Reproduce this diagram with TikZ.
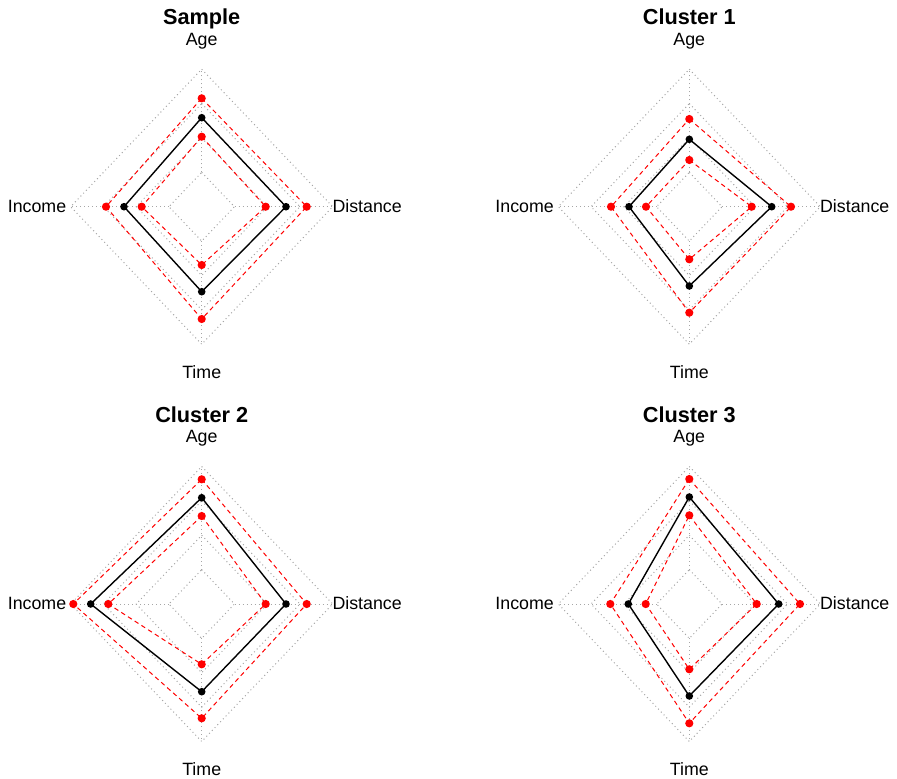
\documentclass[tikz,border=0pt]{standalone}
\usepackage{fontspec}
\setmainfont{Liberation Sans}
\tikzset{
  gridln/.style={draw=gray!70, line width=1pt, dash pattern=on 1pt off 3pt},
  redln/.style={draw=red, line width=1pt, dash pattern=on 4.5pt off 3.5pt},
  blkln/.style={draw=black, line width=1.4pt},
  reddot/.style={circle, fill=red, draw=none, inner sep=0pt, minimum size=8.2pt},
  blkdot/.style={circle, fill=black, draw=none, inner sep=0pt, minimum size=7.6pt},
  axlabel/.style={inner sep=0pt, font=\fontsize{17.8}{20}\selectfont},
  ttl/.style={inner sep=0pt, font=\fontsize{21.7}{24}\selectfont\bfseries},
}
% grid, axes and labels of one radar panel
\newcommand\rgrid[3]{% #1 cx, #2 cy, #3 panel name
  \begin{scope}[shift={(#1,#2)}]
    \foreach \f in {0.25,0.5,0.75,1}{
      \draw[gridln] (0,-137.5*\f) -- (131*\f,0) -- (0,137.5*\f) -- (-131*\f,0) -- cycle;
    }
    \coordinate (#3c1) at (0,-34.4);  \coordinate (#3o1) at (0,-137.5);
    \coordinate (#3c2) at (32.8,0);   \coordinate (#3o2) at (131,0);
    \coordinate (#3c3) at (0,34.4);   \coordinate (#3o3) at (0,137.5);
    \coordinate (#3c4) at (-32.8,0);  \coordinate (#3o4) at (-131,0);
    \draw[gridln] (#3c1) -- (#3o1);
    \draw[gridln] (#3c2) -- (#3o2);
    \draw[gridln] (#3c3) -- (#3o3);
    \draw[gridln] (#3c4) -- (#3o4);
    \node[axlabel, anchor=base] (#3age) at (0,-161.4) {Age};
    \node[axlabel, anchor=base] (#3time) at (0,171.5) {Time};
    \node[axlabel, anchor=base east] (#3inc) at (-135.3,5.6) {Income};
    \node[axlabel, anchor=base west] (#3dis) at (130.6,5.6) {Distance};
  \end{scope}}
\newcommand\rtitle[4]{% #1 cx, #2 cy, #3 name, #4 text
  \node[ttl, anchor=base] (#3title) at (#1,#2-181.8) {#4};}
% one data series: #1 cx #2 cy #3 name #4 line style #5 dot style #6 age #7 distance #8 time #9 income
\newcommand\rseries[9]{%
  \begin{scope}[shift={(#1,#2)}]
    \coordinate (#3a) at (0,-#6);
    \coordinate (#3d) at (#7,0);
    \coordinate (#3t) at (0,#8);
    \coordinate (#3i) at (-#9,0);
    \draw[#4] (#3a) -- (#3d) -- (#3t) -- (#3i) -- cycle;
    \node[#5] (#3pa) at (#3a) {};
    \node[#5] (#3pd) at (#3d) {};
    \node[#5] (#3pt) at (#3t) {};
    \node[#5] (#3pi) at (#3i) {};
  \end{scope}}
\begin{document}
\begin{tikzpicture}[x=1pt,y=-1pt]
  \useasboundingbox (0,0) rectangle (897,779);
  % Sample
  \rgrid{201.7}{206.7}{s}
  \rtitle{201.7}{206.7}{s}{Sample}
  \rseries{201.7}{206.7}{sro}{redln}{reddot}{108.4}{105}{112.3}{95.7}
  \rseries{201.7}{206.7}{sbk}{blkln}{blkdot}{89}{84.3}{85}{77.7}
  \rseries{201.7}{206.7}{sri}{redln}{reddot}{70}{64}{58.3}{60}
  % Cluster 1
  \rgrid{689.3}{206.7}{a}
  \rtitle{689.3}{206.7}{a}{Cluster 1}
  \rseries{689.3}{206.7}{aro}{redln}{reddot}{87.7}{101.7}{106}{78.3}
  \rseries{689.3}{206.7}{abk}{blkln}{blkdot}{67.4}{82.4}{79.3}{60.3}
  \rseries{689.3}{206.7}{ari}{redln}{reddot}{46.7}{62.4}{52.6}{43.3}
  % Cluster 2
  \rgrid{201.7}{604}{b}
  \rtitle{201.7}{604}{b}{Cluster 2}
  \rseries{201.7}{604}{bro}{redln}{reddot}{124.7}{105}{114.3}{128.4}
  \rseries{201.7}{604}{bbk}{blkln}{blkdot}{106.3}{84.3}{87.7}{111}
  \rseries{201.7}{604}{bri}{redln}{reddot}{88}{64}{60.3}{93.4}
  % Cluster 3
  \rgrid{689.3}{604}{c}
  \rtitle{689.3}{604}{c}{Cluster 3}
  \rseries{689.3}{604}{cro}{redln}{reddot}{125}{110.7}{119.3}{79}
  \rseries{689.3}{604}{cbk}{blkln}{blkdot}{107}{89.4}{92}{61}
  \rseries{689.3}{604}{cri}{redln}{reddot}{88.7}{67.4}{65.3}{43.6}
\end{tikzpicture}
\end{document}
